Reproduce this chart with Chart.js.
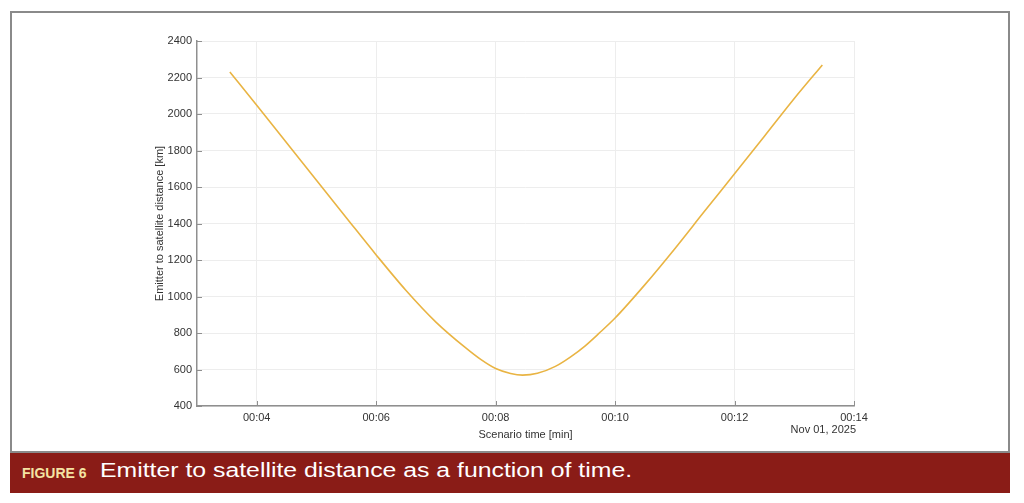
<!DOCTYPE html>
<html>
<head>
<meta charset="utf-8">
<script src="https://cdn.jsdelivr.net/npm/chart.js@4.4.1/dist/chart.umd.min.js"></script>
<style>
  body { margin: 0; width: 1024px; height: 503px; background: #fff; position: relative; overflow: hidden; }
  #frame { position: absolute; left: 10px; top: 11px; width: 996px; height: 438px; border: 2px solid #8a8a8a; background: #fff; }
  #wrap { position: absolute; left: 0; top: 0; width: 1024px; height: 452px; }
  #caption { position: absolute; left: 10px; top: 453px; width: 1000px; height: 40px; background: #8a1c17; }
  #caption .fig { position: absolute; left: 12px; top: 12px; font-family: "Liberation Sans", sans-serif; font-weight: bold; font-size: 14px; color: #f4e3a3; }
  #caption .txt { position: absolute; left: 90px; top: 6px; font-family: "Liberation Sans", sans-serif; font-size: 20px; color: #fff; white-space: nowrap; transform: scaleX(1.24); transform-origin: 0 50%; }
</style>
</head>
<body>
<div id="frame"></div>
<div id="wrap"><canvas id="distChart"></canvas></div>
<div id="caption"><span class="fig">FIGURE 6</span><span class="txt">Emitter to satellite distance as a function of time.</span></div>
<script>
// scenario time in minutes after 00:00
const timeMin = [3.55, 4.0, 4.5, 5.0, 5.5, 6.0, 6.5, 7.0, 7.5, 7.75, 8.0, 8.25, 8.45, 8.7, 9.0, 9.25, 9.5, 9.72, 10.0, 10.5, 11.0, 11.5, 12.0, 12.5, 13.0, 13.47];
// emitter to satellite distance [km]
const distKm = [2230, 2048, 1843, 1637, 1432, 1228, 1033, 860, 718, 655, 605, 578, 569, 579, 617, 668, 730, 795, 882, 1065, 1262, 1468, 1672, 1878, 2085, 2269];
const xTicks = [4, 6, 8, 10, 12, 14];
const yMin = 400, yMax = 2400, yStep = 200;
const dateLabel = "Nov 01, 2025";

const axisColor = "#8f8f8f";
const textColor = "#333333";

function fmtTime(v) {
  let m = Math.round(v);
  return "00:" + (m < 10 ? "0" + m : "" + m);
}

// MATLAB style inward tick marks + date label under the axis
const matlabTicks = {
  id: "matlabTicks",
  afterDatasetsDraw(chart) {
    let ctx = chart.ctx;
    let xs = chart.scales.x, ys = chart.scales.y;
    ctx.save();
    ctx.strokeStyle = axisColor;
    ctx.lineWidth = 1;
    xs.ticks.forEach(t => {
      let px = Math.round(xs.getPixelForValue(t.value)) + 0.5;
      ctx.beginPath();
      ctx.moveTo(px, ys.bottom);
      ctx.lineTo(px, ys.bottom - 5);
      ctx.stroke();
    });
    ys.ticks.forEach(t => {
      let py = Math.round(ys.getPixelForValue(t.value)) + 0.5;
      ctx.beginPath();
      ctx.moveTo(xs.left, py);
      ctx.lineTo(xs.left + 5, py);
      ctx.stroke();
    });
    ctx.fillStyle = textColor;
    ctx.font = "11px 'Liberation Sans', Arial, sans-serif";
    ctx.textAlign = "right";
    ctx.textBaseline = "middle";
    ctx.fillText(dateLabel, xs.right + 2, ys.bottom + 24);
    ctx.restore();
  }
};

let points = timeMin.map((t, i) => ({ x: t, y: distKm[i] }));

new Chart(document.getElementById("distChart"), {
  type: "line",
  data: {
    datasets: [{
      data: points,
      borderColor: "#E9B443",
      borderWidth: 1.6,
      pointRadius: 0,
      cubicInterpolationMode: "monotone",
      fill: false
    }]
  },
  options: {
    responsive: true,
    maintainAspectRatio: false,
    animation: false,
    layout: { padding: { left: 152, right: 170, top: 41, bottom: 10 } },
    plugins: { legend: { display: false }, tooltip: { enabled: false } },
    scales: {
      x: {
        type: "linear",
        min: 3,
        max: 14,
        afterBuildTicks: s => { s.ticks = xTicks.map(v => ({ value: v })); },
        afterFit: s => { s.height = 36; },
        ticks: {
          callback: v => fmtTime(v),
          color: textColor,
          padding: 5,
          maxRotation: 0,
          font: { family: "'Liberation Sans', Arial, sans-serif", size: 11 }
        },
        grid: { color: "#ededed", lineWidth: 1, drawTicks: false },
        border: { color: axisColor, width: 1.5 },
        title: {
          display: true,
          text: "Scenario time [min]",
          color: textColor,
          padding: { top: 6, bottom: 0 },
          font: { family: "'Liberation Sans', Arial, sans-serif", size: 11 }
        }
      },
      y: {
        min: yMin,
        max: yMax,
        afterFit: s => { s.width = 45; },
        ticks: {
          stepSize: yStep,
          callback: v => String(v),
          color: textColor,
          padding: 5,
          font: { family: "'Liberation Sans', Arial, sans-serif", size: 11 }
        },
        grid: { color: "#ededed", lineWidth: 1, drawTicks: false },
        border: { color: axisColor, width: 1.5 },
        title: {
          display: true,
          text: "Emitter to satellite distance [km]",
          color: textColor,
          padding: { top: 1, bottom: 0 },
          font: { family: "'Liberation Sans', Arial, sans-serif", size: 11 }
        }
      }
    }
  },
  plugins: [matlabTicks]
});
</script>
</body>
</html>
